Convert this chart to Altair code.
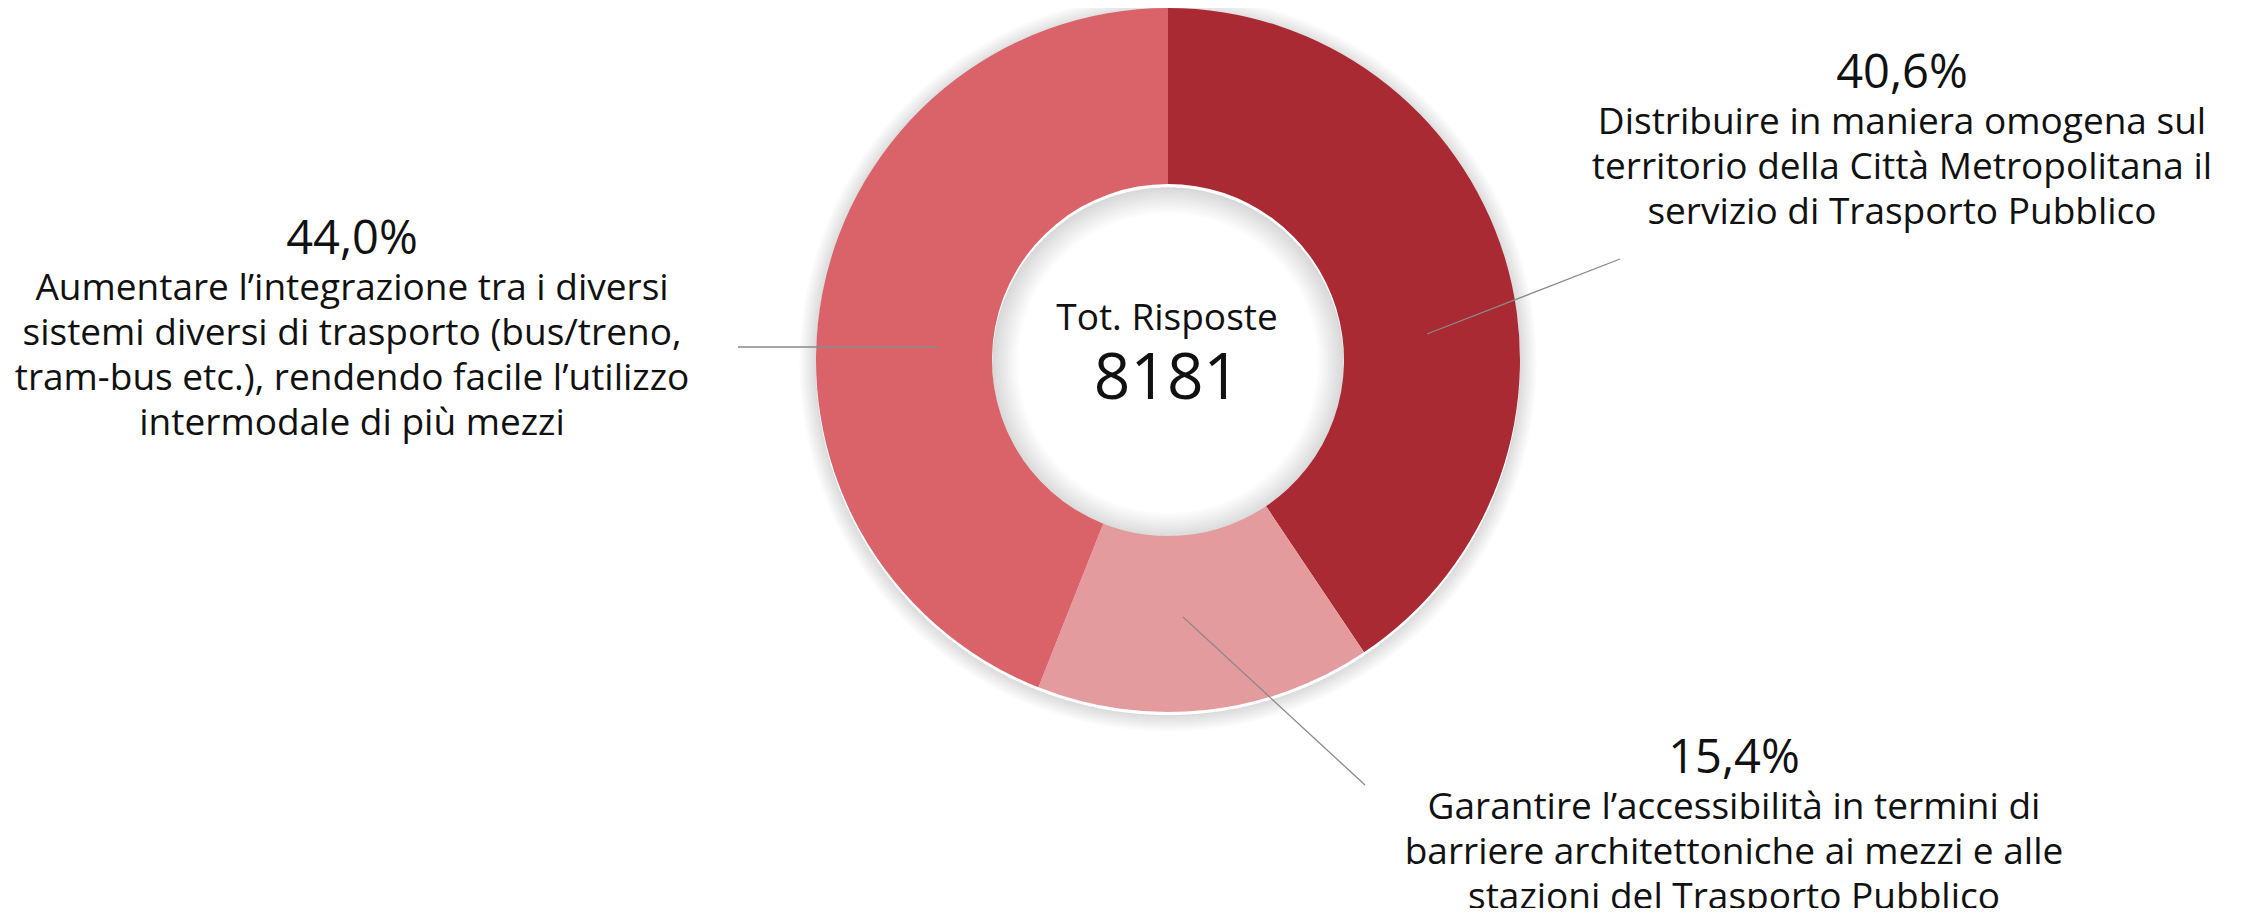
import math
import altair as alt
import pandas as pd

# ---------------- data ----------------
slice_names = [
    "Distribuire in maniera omogena sul territorio della Città Metropolitana il servizio di Trasporto Pubblico",
    "Garantire l’accessibilità in termini di barriere architettoniche ai mezzi e alle stazioni del Trasporto Pubblico",
    "Aumentare l’integrazione tra i diversi sistemi diversi di trasporto (bus/treno, tram-bus etc.), rendendo facile l’utilizzo intermodale di più mezzi",
]
slice_share = [40.6, 15.4, 44.0]
share_labels = ["40,6%", "15,4%", "44,0%"]
label_lines = [
    ["Distribuire in maniera omogena sul",
     "territorio della Città Metropolitana il",
     "servizio di Trasporto Pubblico"],
    ["Garantire l’accessibilità in termini di",
     "barriere architettoniche ai mezzi e alle",
     "stazioni del Trasporto Pubblico"],
    ["Aumentare l’integrazione tra i diversi",
     "sistemi diversi di trasporto (bus/treno,",
     "tram-bus etc.), rendendo facile l’utilizzo",
     "intermodale di più mezzi"],
]
slice_colors = ["#A92A32", "#E49B9E", "#D96368"]
total_caption = "Tot. Risposte"
total_value = 8181

# ---------------- layout (pixels of the 2246x916 frame) ----------------
W, H, M = 2246, 916, 8
CX, CY = 1168, 360
R_OUT, R_IN = 352, 176
pct_x = [1902, 1734, 352]
pct_y = [88, 773, 254]
body_dy = 46
line_h = 45
leader_x1 = [1427, 1183, 939]
leader_y1 = [334, 617, 347]
leader_x2 = [1620, 1365, 738]
leader_y2 = [259, 785, 347]
FONT = "Open Sans"
TXT = "#111111"

xs = alt.Scale(domain=[M, W - M], nice=False, zero=False)
ys = alt.Scale(domain=[M, H - M], nice=False, zero=False, reverse=True)

slices = pd.DataFrame({
    "name": slice_names,
    "share": slice_share,
    "order": list(range(len(slice_names))),
    "pct": share_labels,
    "body": ["\n".join(l) for l in label_lines],
    "px": pct_x,
    "py": pct_y,
    "by": [y + body_dy for y in pct_y],
    "lx1": leader_x1, "ly1": leader_y1, "lx2": leader_x2, "ly2": leader_y2,
})

# soft shadow rings around the donut
rows = []
for k in range(1, 13):
    rows.append({"ri": R_OUT, "ro": R_OUT + 1.4 * k})
for k in range(1, 14):
    rows.append({"ri": R_IN - 2.0 * k, "ro": R_IN})
shadow_df = pd.DataFrame(rows)

shadow = alt.Chart(shadow_df).mark_arc(
    theta=0, theta2=2 * math.pi, color="#000000", opacity=0.011,
    x=CX - M, y=CY - M + 3,
).encode(
    radius=alt.Radius("ro:Q", scale=None),
    radius2=alt.Radius2("ri:Q"),
)

donut = alt.Chart(slices).mark_arc(
    innerRadius=R_IN, outerRadius=R_OUT, x=CX - M, y=CY - M,
).encode(
    theta=alt.Theta("share:Q", stack=True),
    order=alt.Order("order:Q"),
    color=alt.Color("name:N", scale=alt.Scale(domain=slice_names, range=slice_colors), legend=None),
)

leaders = alt.Chart(slices).mark_rule(color="#8a8a8a", strokeWidth=1.3).encode(
    x=alt.X("lx1:Q", scale=xs, axis=None),
    y=alt.Y("ly1:Q", scale=ys, axis=None),
    x2="lx2:Q",
    y2="ly2:Q",
)

pct_text = alt.Chart(slices).mark_text(
    font=FONT, fontSize=47, align="center", baseline="alphabetic", color=TXT,
).encode(
    x=alt.X("px:Q", scale=xs, axis=None),
    y=alt.Y("py:Q", scale=ys, axis=None),
    text="pct:N",
)

body_text = alt.Chart(slices).mark_text(
    font=FONT, fontSize=37, align="center", baseline="alphabetic", color=TXT,
    lineBreak="\n", lineHeight=line_h,
).encode(
    x=alt.X("px:Q", scale=xs, axis=None),
    y=alt.Y("by:Q", scale=ys, axis=None),
    text="body:N",
)

center_df = pd.DataFrame({
    "caption": [total_caption], "total": [str(total_value)],
    "cx": [CX - 1], "cy1": [330], "cy2": [399],
})
caption_text = alt.Chart(center_df).mark_text(
    font=FONT, fontSize=37, align="center", baseline="alphabetic", color=TXT,
).encode(
    x=alt.X("cx:Q", scale=xs, axis=None),
    y=alt.Y("cy1:Q", scale=ys, axis=None),
    text="caption:N",
)
total_text = alt.Chart(center_df).mark_text(
    font=FONT, fontSize=64, align="center", baseline="alphabetic", color=TXT,
).encode(
    x=alt.X("cx:Q", scale=xs, axis=None),
    y=alt.Y("cy2:Q", scale=ys, axis=None),
    text="total:N",
)

chart = alt.layer(
    shadow, donut, leaders, pct_text, body_text, caption_text, total_text
).properties(
    width=W - 2 * M, height=H - 2 * M, padding=0,
    autosize=alt.AutoSizeParams(type="none"),
    background="#ffffff",
).configure_view(stroke=None)

chart.save("out.html", embed_options={"renderer": "svg", "actions": False})
